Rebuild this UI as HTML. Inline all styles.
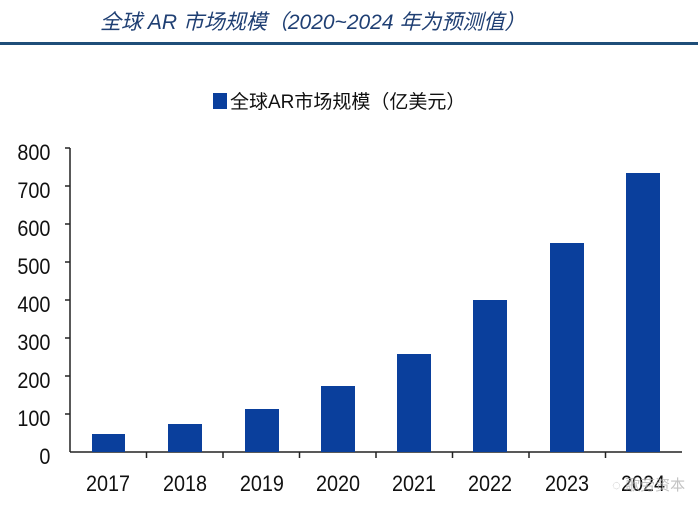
<!DOCTYPE html>
<html><head><meta charset="utf-8"><style>
html,body{margin:0;padding:0;background:#fff;width:698px;height:509px;overflow:hidden}
svg{display:block}
</style></head><body>
<svg width="698" height="509" viewBox="0 0 698 509" xmlns="http://www.w3.org/2000/svg">
<text x="100" y="29" font-family="Liberation Sans, Noto Sans CJK SC, sans-serif" font-size="21" font-style="italic" fill="#1f3f73">全球 AR 市场规模（2020~2024 年为预测值）</text>
<rect x="0" y="42" width="698" height="3" fill="#1f4e79"/>
<rect x="213" y="93" width="14" height="16" fill="#0a3f9c"/>
<text x="230" y="108" font-family="Liberation Sans, Noto Sans CJK SC, sans-serif" font-size="19" fill="#111">全球AR市场规模（亿美元）</text>
<g font-family="Liberation Sans, sans-serif" font-size="22" fill="#111" text-anchor="end" transform="scale(0.9,1)">
<text x="56" y="160">800</text><text x="56" y="198">700</text><text x="56" y="236">600</text><text x="56" y="274">500</text><text x="56" y="312">400</text><text x="56" y="350">300</text><text x="56" y="388">200</text><text x="56" y="426">100</text><text x="56" y="464">0</text>
</g>
<g stroke="#222" stroke-width="1.5">
<line x1="70" y1="148" x2="70" y2="452"/>
<line x1="70" y1="452" x2="682" y2="452"/>
<line x1="65" y1="148" x2="70" y2="148"/><line x1="65" y1="186" x2="70" y2="186"/><line x1="65" y1="224" x2="70" y2="224"/><line x1="65" y1="262" x2="70" y2="262"/><line x1="65" y1="300" x2="70" y2="300"/><line x1="65" y1="338" x2="70" y2="338"/><line x1="65" y1="376" x2="70" y2="376"/><line x1="65" y1="414" x2="70" y2="414"/>
<line x1="146.5" y1="452" x2="146.5" y2="458"/><line x1="223" y1="452" x2="223" y2="458"/><line x1="299.5" y1="452" x2="299.5" y2="458"/><line x1="376" y1="452" x2="376" y2="458"/><line x1="452.5" y1="452" x2="452.5" y2="458"/><line x1="529" y1="452" x2="529" y2="458"/><line x1="605.5" y1="452" x2="605.5" y2="458"/>
</g>
<g fill="#0a3f9c">
<rect x="92" y="434" width="33" height="18"/>
<rect x="168" y="424" width="34" height="28"/>
<rect x="245" y="409" width="34" height="43"/>
<rect x="321" y="386" width="34" height="66"/>
<rect x="397" y="354" width="34" height="98"/>
<rect x="473" y="300" width="34" height="152"/>
<rect x="550" y="243" width="34" height="209"/>
<rect x="626" y="173" width="34" height="279"/>
</g>
<g font-family="Liberation Sans, sans-serif" font-size="22" fill="#111" text-anchor="middle" transform="scale(0.9,1)">
<text x="120" y="491">2017</text><text x="205.5" y="491">2018</text><text x="291" y="491">2019</text><text x="375.5" y="491">2020</text><text x="460" y="491">2021</text><text x="544.5" y="491">2022</text><text x="630" y="491">2023</text><text x="714.5" y="491">2024</text>
</g>
<text x="612" y="490" font-family="Liberation Sans, Noto Sans CJK SC, sans-serif" font-size="15" fill="#aaa" opacity="0.7">◌ 歌劳资本</text>
</svg>
</body></html>
